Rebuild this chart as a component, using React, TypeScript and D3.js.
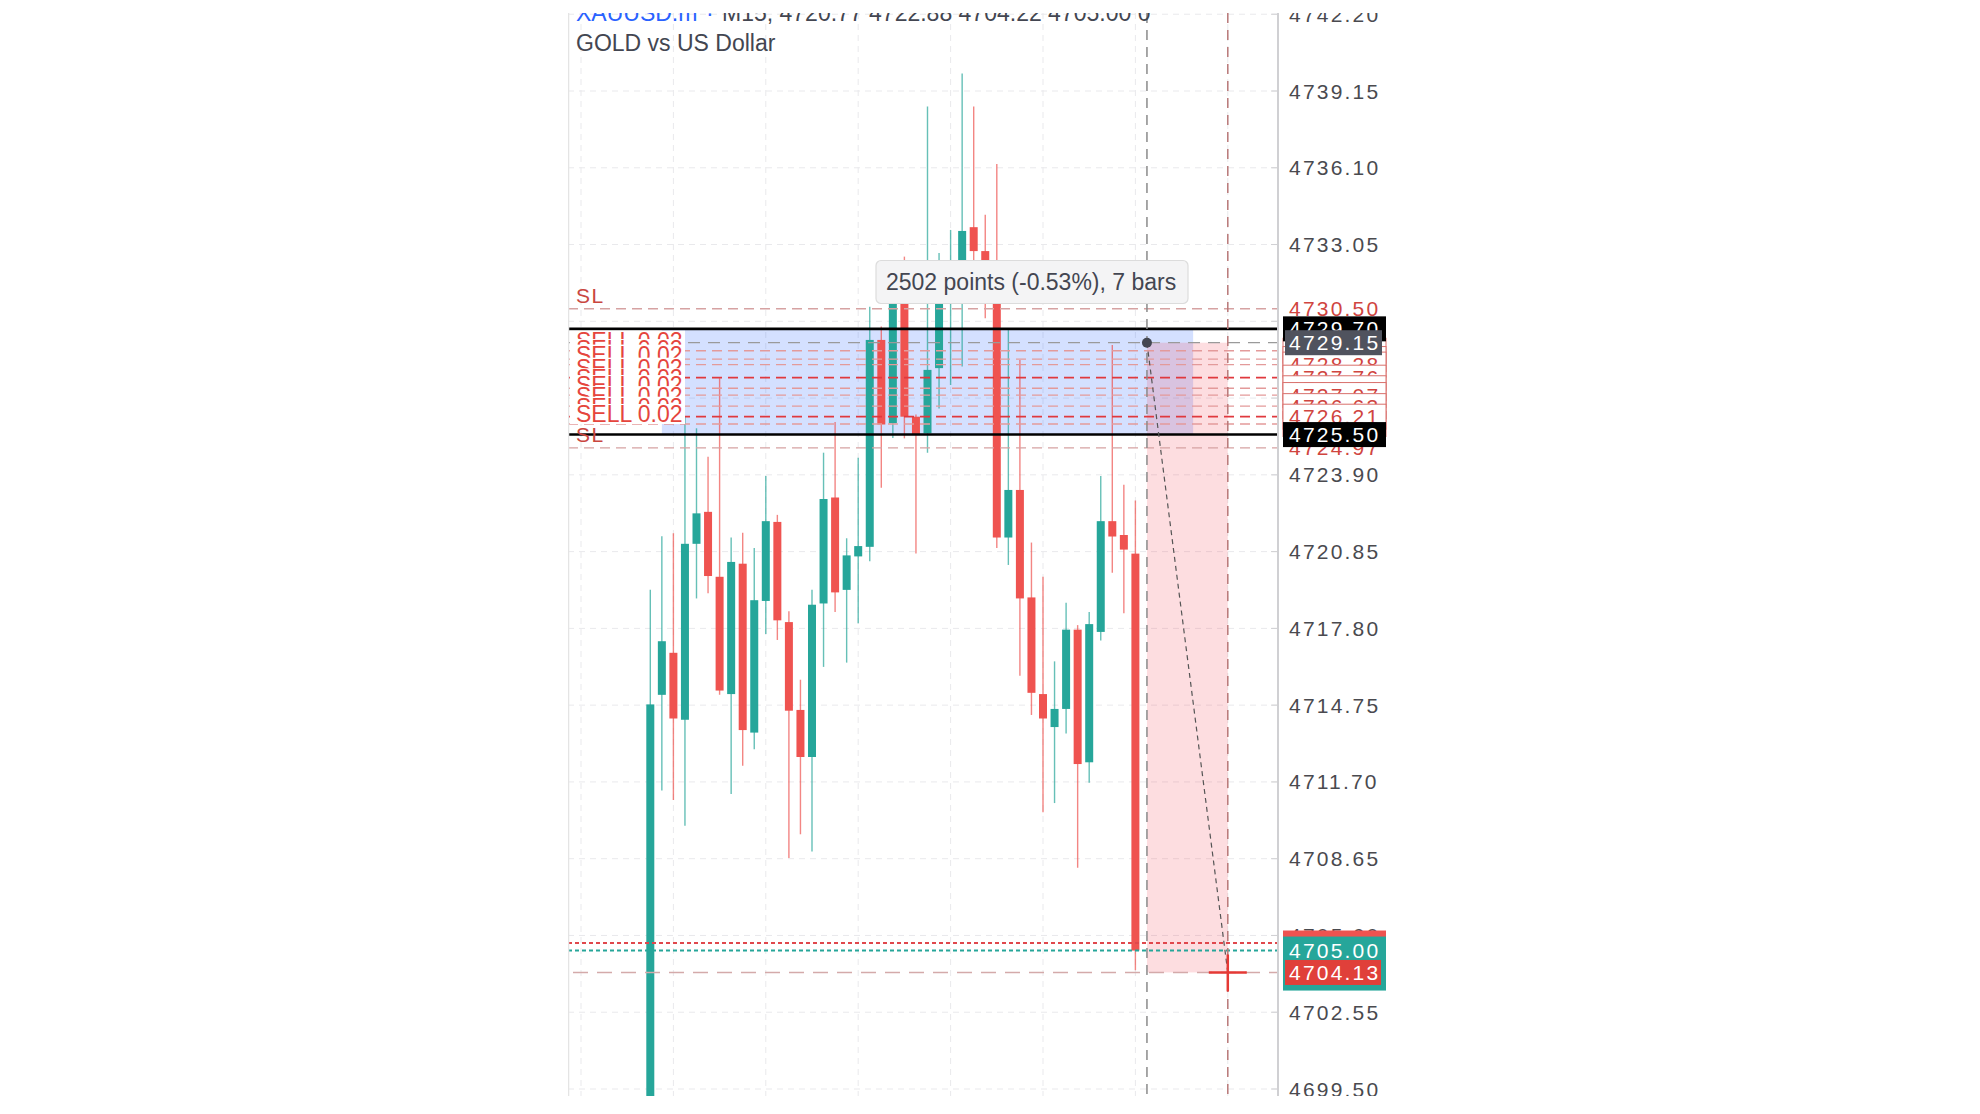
import React from 'react';
import * as d3 from 'd3';

// ---- data ----
const opens = [4698.6, 4715.16, 4716.83, 4714.17, 4721.16, 4722.43, 4719.85, 4715.19, 4720.37, 4713.66, 4718.89, 4722.03, 4718.05, 4714.56, 4712.69, 4718.79, 4723.0, 4719.33, 4720.66, 4721.04, 4729.26, 4725.95, 4731.5, 4726.21, 4725.55, 4728.14, 4730.8, 4731.6, 4733.74, 4732.79, 4731.6, 4721.41, 4723.3, 4719.03, 4715.19, 4713.88, 4714.6, 4717.75, 4712.48, 4717.66, 4722.06, 4721.51, 4720.77];
const highs = [4719.33, 4721.46, 4721.58, 4726.21, 4725.75, 4724.62, 4727.74, 4721.41, 4721.6, 4720.99, 4723.85, 4722.31, 4718.48, 4715.76, 4719.33, 4724.78, 4726.0, 4721.38, 4724.58, 4730.58, 4729.79, 4731.6, 4732.57, 4726.3, 4738.53, 4732.71, 4733.63, 4739.85, 4738.53, 4734.23, 4736.25, 4729.65, 4728.46, 4721.21, 4719.85, 4716.49, 4718.82, 4717.93, 4718.45, 4723.85, 4729.06, 4723.51, 4722.88];
const lows = [4697.5, 4711.36, 4710.98, 4709.96, 4718.99, 4719.2, 4715.16, 4711.22, 4712.34, 4713.0, 4717.58, 4717.34, 4708.68, 4709.62, 4708.94, 4716.27, 4718.45, 4716.44, 4718.0, 4720.47, 4723.39, 4725.36, 4725.35, 4720.78, 4724.78, 4726.54, 4727.47, 4728.2, 4732.3, 4730.12, 4720.99, 4720.32, 4715.92, 4714.36, 4710.5, 4710.86, 4713.62, 4708.29, 4711.67, 4717.32, 4720.01, 4718.4, 4704.22];
const closes = [4714.78, 4717.29, 4714.22, 4721.16, 4722.37, 4719.88, 4715.33, 4720.44, 4713.76, 4718.92, 4722.06, 4718.12, 4714.53, 4712.69, 4718.74, 4722.94, 4719.23, 4720.7, 4721.07, 4729.26, 4725.9, 4731.0, 4726.21, 4725.48, 4728.07, 4731.2, 4731.4, 4733.59, 4732.79, 4731.8, 4721.41, 4723.3, 4718.99, 4715.24, 4714.22, 4714.6, 4717.75, 4712.41, 4717.97, 4722.06, 4721.45, 4720.93, 4705.0];

const tickValues = d3.range(0, 15).map((k) => 4742.2 - 3.05 * k);
const slLevels = [4730.5, 4724.97];
const sellLevels = [4728.83, 4728.5, 4728.28, 4727.76, 4727.34, 4727.07, 4726.63, 4726.21, 4725.92];
const strongSell = [4727.76, 4726.21];
const rangeTop = 4729.7;
const rangeBottom = 4725.5;
const measureStart = 4729.15;
const measureEnd = 4704.13;
const askPrice = 4705.3;
const bidPrice = 4705.0;
const measureBars = [43, 50];
const rangeBars = [1, 47];
const titleSymbol = 'XAUUSD.m';
const titleRest = 'M15, 4720.77 4722.88 4704.22 4705.00 0';
const subtitle = 'GOLD vs US Dollar';
const tooltipText = '2502 points (-0.53%), 7 bars';

const GREEN = '#26a69a';
const RED = '#ef5350';
const FONT = '"Liberation Sans", Arial, Helvetica, sans-serif';

export default function App() {
  const y = d3.scaleLinear().domain([4699.5, 4739.15]).range([1089, 91]);
  const x = d3.scaleLinear().domain([0, 42]).range([650.3, 1135.4]);
  const L = 568, R = 1278, T = 13, B = 1096;
  const bodyW = 8;
  const gridXs = d3.range(0, 8).map((k) => x(-6 + 8 * k));
  const mx0 = x(measureBars[0]);
  const mx1 = x(measureBars[1]);

  const rightBox = (v: number, fill: string, stroke: string | null, color: string, key: string, x0 = 1283, w = 103, h = 25) => (
    <g key={key}>
      <rect x={x0} y={y(v) - h / 2} width={w} height={h} fill={fill} stroke={stroke || 'none'} strokeWidth={1} />
      <text x={1289} y={y(v) + 7.5} fill={color} fontSize={21} letterSpacing={2.2} fontFamily={FONT}>{v.toFixed(2)}</text>
    </g>
  );

  const sellOrder = [...sellLevels.filter((v) => v !== 4726.21), 4726.21];

  return (
    <svg width={1980} height={1114} style={{ position: 'absolute', left: 0, top: 0, background: '#fff' }}>
      <defs>
        <clipPath id="page"><rect x={0} y={T} width={1980} height={B - T} /></clipPath>
        <clipPath id="plot"><rect x={L} y={T} width={R - L} height={B - T} /></clipPath>
      </defs>
      <rect x={0} y={0} width={1980} height={1114} fill="#fff" />
      <g clipPath="url(#page)">
        <g clipPath="url(#plot)">
          {/* grid */}
          {tickValues.map((v) => (
            <line key={'hg' + v} x1={L} x2={R} y1={y(v)} y2={y(v)} stroke="#e9e9ec" strokeWidth={1} strokeDasharray="6 5" />
          ))}
          {gridXs.map((gx) => (
            <line key={'vg' + gx} x1={gx} x2={gx} y1={T} y2={B} stroke="#e9e9ec" strokeWidth={1} strokeDasharray="6 5" />
          ))}
          {/* position range */}
          <rect x={x(rangeBars[0])} y={y(rangeTop)} width={x(rangeBars[1]) - x(rangeBars[0])} height={y(rangeBottom) - y(rangeTop)} fill="rgba(41,98,255,0.2)" />
          {/* measure area */}
          <rect x={mx0} y={y(measureStart)} width={mx1 - mx0} height={y(measureEnd) - y(measureStart)} fill="rgba(242,54,69,0.17)" />
          {/* candles */}
          {opens.map((o, i) => {
            const c = closes[i];
            const col = c >= o ? GREEN : RED;
            const top = y(Math.max(o, c));
            const bot = y(Math.min(o, c));
            return (
              <g key={'c' + i}>
                <line x1={x(i)} x2={x(i)} y1={y(highs[i])} y2={y(lows[i])} stroke={col} strokeWidth={1.4} opacity={0.7} />
                <rect x={x(i) - bodyW / 2} y={top} width={bodyW} height={Math.max(1.5, bot - top)} fill={col} />
              </g>
            );
          })}
          {/* horizontal lines */}
          {slLevels.map((v) => (
            <line key={'sl' + v} x1={L} x2={R} y1={y(v)} y2={y(v)} stroke="#d6a2a2" strokeWidth={1.4} strokeDasharray="10 6" />
          ))}
          {sellLevels.map((v) => {
            const strong = strongSell.includes(v);
            return (
              <line key={'sell' + v} x1={L} x2={R} y1={y(v)} y2={y(v)} stroke={strong ? '#e0393e' : '#e39a9a'} strokeWidth={strong ? 1.8 : 1.3} strokeDasharray="10 6" />
            );
          })}
          <line x1={L} x2={R} y1={y(measureStart)} y2={y(measureStart)} stroke="#9a9a9a" strokeWidth={1.3} strokeDasharray="12 8" />
          <line x1={L} x2={R} y1={y(rangeTop)} y2={y(rangeTop)} stroke="#000" strokeWidth={2.6} />
          <line x1={L} x2={R} y1={y(rangeBottom)} y2={y(rangeBottom)} stroke="#000" strokeWidth={2.6} />
          <line x1={L} x2={R} y1={y(askPrice)} y2={y(askPrice)} stroke="#e0474c" strokeWidth={2} strokeDasharray="4 3" />
          <line x1={L} x2={R} y1={y(bidPrice)} y2={y(bidPrice)} stroke={GREEN} strokeWidth={2} strokeDasharray="4 3" />
          <line x1={L + 5} x2={R} y1={y(measureEnd)} y2={y(measureEnd)} stroke="#d4aaaa" strokeWidth={1.4} strokeDasharray="15 9" />
          {/* vertical measure lines */}
          <line x1={mx0} x2={mx0} y1={T} y2={B} stroke="#8a8a8a" strokeWidth={1.5} strokeDasharray="10 7" />
          <line x1={mx1} x2={mx1} y1={T} y2={B} stroke="#b87878" strokeWidth={1.5} strokeDasharray="10 7" />
          {/* diagonal */}
          <line x1={mx0} y1={y(measureStart)} x2={mx1} y2={y(measureEnd)} stroke="#555" strokeWidth={1.2} strokeDasharray="5 4" />
          <circle cx={mx0} cy={y(measureStart)} r={5} fill="#434651" />
          <line x1={mx1 - 19} x2={mx1 + 19} y1={y(measureEnd)} y2={y(measureEnd)} stroke="#e53935" strokeWidth={2.5} />
          <line x1={mx1} x2={mx1} y1={y(measureEnd) - 18} y2={y(measureEnd) + 19} stroke="#e53935" strokeWidth={2.5} />
          {/* left labels */}
          {sellLevels.map((v) => (
            <g key={'sl-l' + v}>
              <rect x={570} y={y(v) - 20} width={115} height={20} fill="#fff" />
              <text x={576} y={y(v) - 2} fill="#e5453d" fontSize={23} fontFamily={FONT}>SELL 0.02</text>
            </g>
          ))}
          {slLevels.map((v) => (
            <text key={'slt' + v} x={576} y={y(v) - 6} fill="#c9463f" fontSize={21} letterSpacing={1.5} fontFamily={FONT}>SL</text>
          ))}
          {/* left border */}
          <line x1={L + 0.5} x2={L + 0.5} y1={T} y2={B} stroke="#e4e4e4" strokeWidth={1.5} />
        </g>
        {/* tooltip */}
        <rect x={876} y={260.5} width={312} height={43} rx={5} fill="#f4f4f5" stroke="#dcdcdc" strokeWidth={1.2} />
        <text x={886} y={289.5} fill="#434651" fontSize={23} fontFamily={FONT}>{tooltipText}</text>
        {/* title */}
        <text x={576} y={21} fontSize={23} fontFamily={FONT}>
          <tspan fill="#2962ff">{titleSymbol}</tspan>
          <tspan x={706} fill="#2962ff">·</tspan>
          <tspan x={722} fill="#434651">{titleRest}</tspan>
        </text>
        <text x={576} y={51} fontSize={23} fill="#434651" fontFamily={FONT}>{subtitle}</text>
        {/* axis */}
        <line x1={R} x2={R} y1={T} y2={B} stroke="#d0d0d3" strokeWidth={2} />
        {tickValues.map((v) => (
          <g key={'t' + v}>
            <line x1={R - 7} x2={R} y1={y(v)} y2={y(v)} stroke="#d0d0d3" strokeWidth={1} />
            <text x={1289} y={y(v) + 7.5} fill="#4a4a4f" fontSize={21} letterSpacing={2.2} fontFamily={FONT}>{v.toFixed(2)}</text>
          </g>
        ))}
        {/* right price labels */}
        {slLevels.map((v) => rightBox(v, '#fff', null, '#d0453f', 'rsl' + v))}
        {sellOrder.map((v) => rightBox(v, '#fff', '#d9706c', '#d0453f', 'rs' + v))}
        {rightBox(rangeTop, '#000', null, '#fff', 'rt')}
        {rightBox(measureStart, '#50535e', null, '#fff', 'ms', 1285, 97)}
        {rightBox(rangeBottom, '#000', null, '#fff', 'rb')}
        {rightBox(askPrice, RED, null, '#fff', 'ask')}
        <rect x={1283} y={y(bidPrice) - 14} width={103} height={54} fill={GREEN} />
        <text x={1289} y={y(bidPrice) + 7.5} fill="#fff" fontSize={21} letterSpacing={2.2} fontFamily={FONT}>{bidPrice.toFixed(2)}</text>
        {rightBox(measureEnd, '#e0403a', null, '#fff', 'me', 1285, 96)}
      </g>
    </svg>
  );
}
